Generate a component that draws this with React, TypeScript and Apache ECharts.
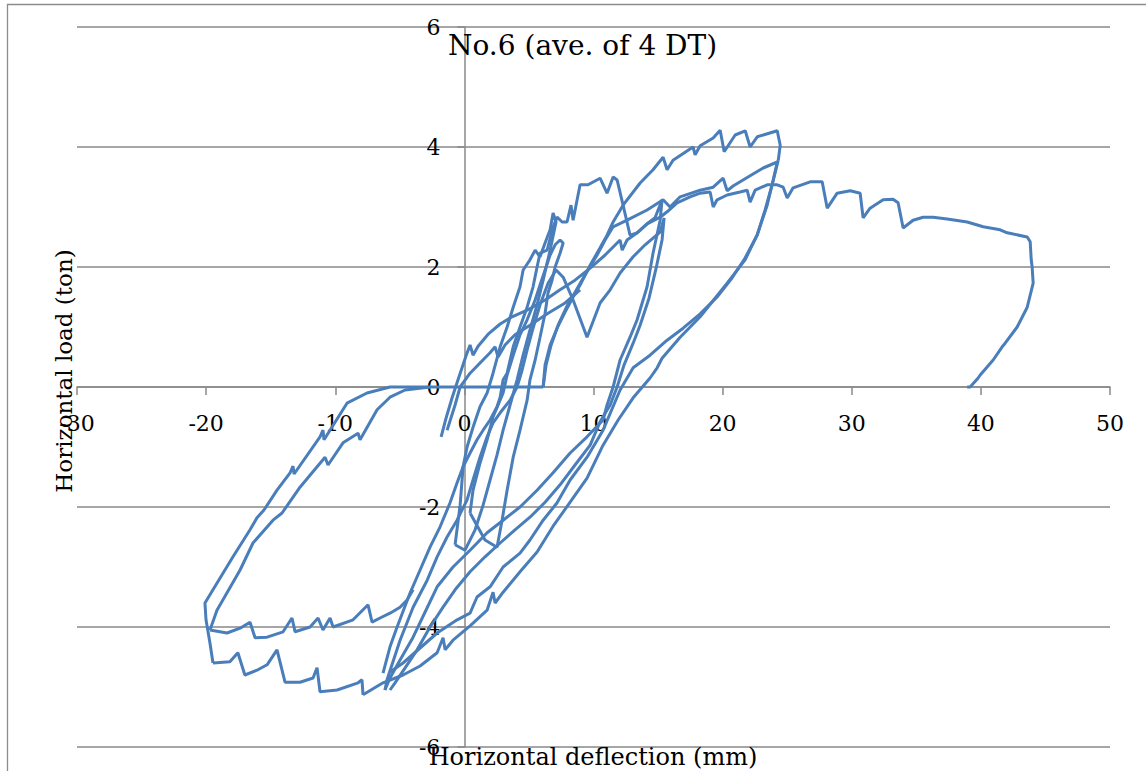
import React, { useEffect, useRef } from "react";
import * as echarts from "echarts";

// Horizontal deflection (mm) vs horizontal load (ton)
const leftOuterUp: number[][] = [
  [-19.47, -4.6], [-19.7, -4.27], [-20.01, -3.88], [-20.09, -3.6], [-19.47, -3.38], [-17.92, -2.83],
  [-16.6, -2.38], [-16.06, -2.18], [-15.52, -2.05], [-14.51, -1.72], [-13.5, -1.43], [-13.27, -1.32],
  [-13.19, -1.45], [-11.18, -0.83], [-10.95, -0.72], [-10.87, -0.88], [-9.09, -0.27], [-7.54, -0.1],
  [-5.76, 0], [6.1, 0],
];

const leftInnerUp: number[][] = [
  [-19.7, -4.05], [-19.16, -3.72], [-17.37, -3.05], [-16.37, -2.6], [-14.82, -2.22], [-14.12, -2.1],
  [-12.73, -1.67], [-10.79, -1.17], [-10.56, -1.3], [-9.4, -0.93], [-8.23, -0.77], [-8.08, -0.88],
  [-6.76, -0.38], [-5.76, -0.17], [-4.59, -0.05], [-2.66, 0],
];

const bottomInner: number[][] = [
  [-3.97, -3.38], [-4.44, -3.55], [-4.98, -3.67], [-5.76, -3.77], [-6.53, -3.85], [-7.15, -3.92],
  [-7.46, -3.63], [-8.62, -3.88], [-10.17, -4.0], [-10.4, -3.85], [-10.95, -4.05], [-11.33, -3.85],
  [-11.95, -4.0], [-13.11, -4.08], [-13.35, -3.85], [-14.04, -4.08], [-15.28, -4.17], [-16.21, -4.18],
  [-16.6, -3.92], [-17.37, -4.02], [-18.38, -4.1], [-19.7, -4.05],
];

const bottomOuter: number[][] = [
  [-7.85, -5.13], [-7.93, -4.88], [-8.23, -4.93], [-9.86, -5.05], [-11.18, -5.08], [-11.41, -4.68],
  [-11.72, -4.85], [-12.73, -4.92], [-13.89, -4.92], [-14.51, -4.38], [-15.28, -4.63], [-16.06, -4.72],
  [-17.0, -4.8], [-17.54, -4.43], [-18.16, -4.58], [-19.47, -4.6],
];

const topCycle1: number[][] = [
  [6.1, 0], [6.25, 0.37], [6.64, 0.7], [7.18, 0.98], [7.8, 1.25], [8.42, 1.5], [8.96, 1.7], [9.74, 2.03],
  [10.51, 2.32], [11.05, 2.53], [11.52, 2.75], [12.29, 3.03], [13.61, 3.4], [14.61, 3.62], [15.39, 3.83],
  [15.7, 3.62], [16.16, 3.78], [17.71, 4.0], [17.87, 3.87], [18.26, 4.02], [19.27, 4.15], [19.81, 4.28],
  [20.12, 3.92], [20.97, 4.2], [21.75, 4.27], [22.13, 4.0], [22.68, 4.17], [24.23, 4.27], [24.46, 4.03],
  [24.31, 3.78],
];

const unloadCycle1: number[][] = [
  [24.31, 3.78], [23.83, 3.37], [23.29, 2.95], [22.67, 2.53], [21.74, 2.12], [20.35, 1.73], [18.26, 1.17],
  [16.71, 0.83], [15.31, 0.48], [14.93, 0.32], [14.38, 0.15], [13.07, -0.18], [11.91, -0.55],
  [10.74, -0.97], [9.5, -1.52], [8.19, -1.92], [6.87, -2.32], [5.63, -2.75], [4.31, -3.08], [3.0, -3.42],
  [2.38, -3.6], [2.22, -3.42], [1.76, -3.72], [0.44, -3.98], [-0.88, -4.22], [-1.49, -4.38],
  [-1.65, -4.18], [-2.11, -4.43], [-3.43, -4.65], [-4.75, -4.8], [-6.3, -4.93], [-7.85, -5.13],
];

const topCycle2: number[][] = [
  [6.1, 0], [6.33, 0.37], [6.72, 0.7], [7.26, 1.03], [7.88, 1.32], [8.57, 1.58], [9.35, 1.87],
  [10.28, 2.2], [10.9, 2.45], [11.52, 2.67], [12.6, 2.78], [14.15, 2.95], [15.39, 3.12], [15.93, 3.0],
  [16.71, 3.17], [18.26, 3.28], [19.27, 3.33], [20.04, 3.48], [20.35, 3.27], [20.81, 3.35], [22.13, 3.52],
  [23.14, 3.65], [24.23, 3.75],
];

const unloadCycle2: number[][] = [
  [24.23, 3.75], [23.92, 3.45], [23.45, 3.03], [22.67, 2.53], [21.74, 2.15], [20.74, 1.82], [19.57, 1.5],
  [18.26, 1.22], [16.94, 0.98], [15.7, 0.78], [14.38, 0.53], [13.07, 0.32], [12.06, -0.05],
  [10.74, -0.72], [9.5, -1.17], [8.19, -1.55], [7.18, -1.93], [6.1, -2.22], [5.08, -2.55], [4.31, -2.77],
  [3.0, -3.0], [1.99, -3.33], [0.98, -3.5], [0.44, -3.77], [-0.56, -3.88], [-2.11, -4.1], [-4.75, -4.6],
  [-5.76, -4.75],
];

const finalLoad: number[][] = [
  [-1.8, -0.83], [-1.42, -0.52], [-0.95, -0.18], [-0.57, 0.07], [-0.18, 0.32], [0.13, 0.52], [0.44, 0.7],
  [0.67, 0.53], [1.06, 0.68], [1.84, 0.88], [2.77, 1.05], [3.69, 1.17], [4.86, 1.28], [6.25, 1.45],
  [7.41, 1.62], [8.57, 1.78], [9.74, 1.98], [10.9, 2.2], [12.06, 2.45], [12.22, 2.28], [12.6, 2.45],
  [13.38, 2.57], [14.15, 2.72], [15.16, 2.83], [15.7, 2.92], [16.47, 3.07], [17.48, 3.17], [18.26, 3.23],
  [19.03, 3.25], [19.27, 3.0], [19.57, 3.12], [20.35, 3.2], [21.35, 3.25], [21.9, 3.28], [22.13, 3.08],
  [22.52, 3.28], [23.45, 3.37], [24.23, 3.37], [24.69, 3.33], [25.0, 3.15], [25.46, 3.32], [26.78, 3.42],
  [27.71, 3.42], [28.1, 2.98], [28.87, 3.23], [29.88, 3.27], [30.65, 3.23], [30.88, 2.82], [31.42, 2.98],
  [32.43, 3.12], [33.2, 3.13], [33.59, 3.07], [33.98, 2.65], [34.75, 2.78], [35.53, 2.83], [36.3, 2.83],
  [37.39, 2.8], [38.94, 2.75], [40.18, 2.67], [41.49, 2.62], [42.04, 2.57], [43.59, 2.5], [43.82, 2.42],
  [43.9, 2.12], [43.97, 2.0], [44.05, 1.73], [43.59, 1.33], [42.81, 1.0], [41.88, 0.73], [41.65, 0.67],
  [40.95, 0.45], [39.95, 0.2], [39.79, 0.15], [39.17, 0], [38.94, 0],
];

const midCycle1: number[][] = [
  [-6.3, -4.77], [-5.76, -4.33], [-5.21, -4.0], [-4.2, -3.43], [-3.43, -3.05], [-2.66, -2.67],
  [-1.88, -2.33], [-1.11, -1.93], [-0.57, -1.6], [-0.1, -1.33], [0.44, -1.1], [0.98, -0.88], [1.45, -0.72],
  [1.99, -0.55], [2.53, -0.33], [2.77, -0.17], [3.0, 0.12], [3.31, 0.23], [3.78, 0.67], [4.31, 1.0],
  [4.86, 1.33], [5.32, 1.67], [5.63, 2.0], [5.86, 2.23], [6.41, 2.28], [6.87, 2.67], [7.18, 2.83],
  [7.57, 2.75], [7.95, 2.75], [8.26, 3.03], [8.42, 2.78], [8.96, 3.37], [9.58, 3.37], [10.51, 3.48],
  [11.05, 3.23], [11.52, 3.5], [11.83, 3.45], [12.29, 3.03], [12.83, 2.53], [13.38, 2.57], [14.15, 2.72],
  [14.77, 2.82], [15.31, 3.12], [15.16, 2.78], [14.61, 2.23], [14.15, 1.67], [13.38, 1.12], [12.83, 0.83],
  [12.06, 0.45], [11.52, 0], [11.05, -0.3], [10.74, -0.55], [9.5, -0.83], [8.19, -1.1], [6.87, -1.43],
  [5.63, -1.72], [4.31, -2.0], [3.0, -2.22], [1.76, -2.43], [0.44, -2.72], [-0.88, -3.0], [-2.11, -3.33],
  [-3.04, -3.75], [-3.97, -4.17], [-4.98, -4.55], [-5.76, -4.85], [-6.15, -5.05],
];

const midCycle2: number[][] = [
  [-6.15, -5.05], [-5.99, -4.88], [-4.98, -4.22], [-3.97, -3.67], [-2.88, -3.22], [-2.11, -2.83],
  [-1.34, -2.5], [-0.57, -2.22], [0.21, -1.88], [0.67, -1.55], [1.21, -1.17], [1.76, -0.83], [2.22, -0.6],
  [2.77, -0.43], [3.54, -0.22], [4.08, 0], [4.47, 0.28], [4.86, 0.62], [5.32, 0.98], [5.86, 1.37],
  [6.48, 1.73], [7.1, 1.95], [7.65, 1.83], [8.42, 1.45], [9.5, 0.83], [10.51, 1.4], [11.29, 1.62],
  [12.06, 1.9], [13.07, 2.17], [14.0, 2.37], [14.61, 2.48], [15.16, 2.58], [15.47, 2.82], [15.31, 2.45],
  [14.85, 1.98], [14.3, 1.48], [13.61, 1.03], [13.07, 0.73], [12.37, 0.37], [11.83, 0], [11.29, -0.3],
  [10.51, -0.58], [9.74, -0.97], [8.57, -1.3], [7.41, -1.63], [6.25, -1.92], [5.08, -2.17], [3.92, -2.38],
  [2.77, -2.6], [1.6, -2.83], [0.44, -3.08], [-0.72, -3.38], [-1.65, -3.67], [-2.66, -4.0], [-3.66, -4.38],
  [-4.59, -4.68], [-5.37, -4.93], [-5.76, -5.05],
];

const upperLeftCurve: number[][] = [
  [-1.34, -0.72], [-0.72, -0.3], [-0.33, 0], [0.44, 0.23], [1.21, 0.4], [1.99, 0.57], [2.38, 0.67],
  [2.61, 0.5], [3.15, 0.7], [3.92, 0.87], [5.08, 1.03], [6.48, 1.23], [7.8, 1.4], [8.96, 1.62],
];

const smallLoop1: number[][] = [
  [0.44, -2.1], [0.67, -1.72], [1.21, -1.27], [1.76, -0.88], [2.22, -0.5], [3.0, -0.1], [3.31, 0.2],
  [3.78, 0.53], [4.31, 0.87], [4.86, 1.12], [5.48, 1.45], [5.86, 1.7], [6.25, 1.95], [6.64, 2.2],
  [7.03, 2.37], [7.41, 2.45], [7.65, 2.4], [7.41, 2.23], [7.03, 2.0], [6.79, 1.78], [6.48, 1.57],
  [6.25, 1.23], [5.86, 0.83], [5.48, 0.45], [5.08, 0.12], [4.86, -0.22], [4.31, -0.72], [3.78, -1.17],
  [3.31, -1.72], [2.92, -2.22], [2.53, -2.67], [1.6, -2.55], [0.44, -2.1],
];

const smallLoop2: number[][] = [
  [-0.72, -2.63], [-0.33, -1.97], [-0.1, -1.33], [0.21, -1.0], [0.67, -0.67], [1.21, -0.33], [1.76, -0.1],
  [2.22, 0.23], [2.77, 0.67], [3.31, 1.0], [3.78, 1.33], [4.31, 1.67], [4.55, 1.95], [5.08, 2.12],
  [5.48, 2.28], [5.86, 2.17], [6.25, 2.4], [6.64, 2.62], [6.87, 2.9], [7.1, 2.75], [6.64, 2.28],
  [6.1, 1.78], [5.63, 1.37], [5.08, 0.95], [4.55, 0.53], [4.08, 0.12], [3.54, -0.3], [3.0, -0.72],
  [2.53, -1.13], [1.99, -1.55], [1.45, -1.97], [0.83, -2.38], [0.05, -2.72], [-0.72, -2.63],
];

const curves = [
  leftOuterUp, leftInnerUp, bottomInner, bottomOuter, topCycle1, unloadCycle1, topCycle2, unloadCycle2,
  finalLoad, midCycle1, midCycle2, upperLeftCurve, smallLoop1, smallLoop2,
];

const xMin = -30, xMax = 50, xStep = 10;
const yMin = -6, yMax = 6, yStep = 2;

const titleText = "No.6 (ave. of 4 DT)";
const xName = "Horizontal deflection (mm)";
const yName = "Horizontal load (ton)";

const FONT = "'DejaVu Serif', serif";
const GRID = "#898989";
const BLUE = "#4a7ebb";

// plot frame (pixels)
const G_LEFT = 77, G_RIGHT = 36, G_TOP = 27, G_BOTTOM = 24;
const W = 1146, H = 771;

export default function App() {
  const ref = useRef<HTMLDivElement>(null);
  useEffect(() => {
    if (!ref.current) return;
    const chart = echarts.init(ref.current, undefined, { renderer: "svg" });
    const plotW = W - G_LEFT - G_RIGHT;
    const plotH = H - G_TOP - G_BOTTOM;
    // move axes to the zero lines (axis labels stay with the axis lines)
    const yAxisOffset = -((0 - xMin) / (xMax - xMin)) * plotW;
    const xAxisOffset = -((0 - yMin) / (yMax - yMin)) * plotH;
    chart.setOption({
      animation: false,
      backgroundColor: "#ffffff",
      title: {
        text: titleText,
        left: 443,
        top: 26,
        textStyle: { fontFamily: FONT, fontSize: 28, fontWeight: "normal", color: "#000" },
      },
      grid: {
        left: G_LEFT, right: G_RIGHT, top: G_TOP, bottom: G_BOTTOM,
        containLabel: false, outerBoundsMode: "none",
      },
      xAxis: {
        type: "value",
        position: "bottom",
        offset: xAxisOffset,
        min: xMin,
        max: xMax,
        interval: xStep,
        axisLine: { show: true, onZero: false, lineStyle: { color: GRID, width: 1.5 } },
        axisTick: { show: true, length: 8, lineStyle: { color: GRID, width: 1.5 } },
        axisLabel: { margin: 25, fontFamily: FONT, fontSize: 22, color: "#000", hideOverlap: false },
        splitLine: { show: false },
      },
      yAxis: {
        type: "value",
        position: "left",
        offset: yAxisOffset,
        min: yMin,
        max: yMax,
        interval: yStep,
        axisLine: { show: true, onZero: false, lineStyle: { color: GRID, width: 1.5 } },
        axisTick: { show: true, length: 7, lineStyle: { color: GRID, width: 1.5 } },
        axisLabel: { margin: 24, fontFamily: FONT, fontSize: 22, color: "#000", hideOverlap: false },
        splitLine: { show: true, lineStyle: { color: GRID, width: 1.5 } },
      },
      graphic: [
        {
          type: "rect",
          shape: { x: 7.5, y: 4.5, width: 1400, height: 1000 },
          style: { fill: "none", stroke: "#8c8c8c", lineWidth: 1.3 },
          silent: true,
        },
        {
          type: "text",
          x: 64,
          y: 371,
          rotation: Math.PI / 2,
          style: { text: yName, font: "23px 'DejaVu Serif', serif", fill: "#000", align: "center", verticalAlign: "middle" },
          z: 10,
        },
        {
          type: "text",
          x: 593,
          y: 757,
          style: { text: xName, font: "24px 'DejaVu Serif', serif", fill: "#000", align: "center", verticalAlign: "middle" },
          z: 10,
        },
      ],
      series: curves.map((c, i) => ({
        type: "line",
        name: "s" + i,
        data: c,
        showSymbol: false,
        symbol: "none",
        smooth: false,
        lineStyle: { color: BLUE, width: 3 },
        itemStyle: { color: BLUE },
        z: 3,
      })),
    });
    return () => chart.dispose();
  }, []);
  return <div ref={ref} style={{ position: "fixed", left: 0, top: 0, width: W, height: H }} />;
}
